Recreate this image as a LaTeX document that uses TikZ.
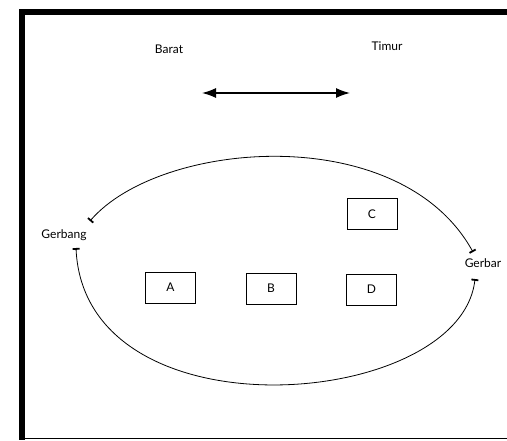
\documentclass[tikz,border=0pt]{standalone}
\usepackage{fontspec}
\setmainfont{Lato}
\usetikzlibrary{arrows.meta}

\tikzset{
  site/.style={draw, line width=1pt, minimum width=50pt, minimum height=31pt, inner sep=0pt},
  tag/.style={font=\fontsize{12}{14}\selectfont},
  route/.style={line width=0.8pt, {Bar[width=7pt,line width=1.8pt]}-{Bar[width=7pt,line width=1.8pt]}}
}

\begin{document}
\begin{tikzpicture}[x=10pt, y=-10pt]
\useasboundingbox (0,0) rectangle (50.7,44);

%Frame
\draw [line width=6pt] (50.7,1.2) -- (2.2,1.2) -- (2.2,44);
\draw [line width=1.5pt] (1.9,43.85) -- (50.7,43.85);

%Compass
\node [tag] (barat) at (16.9,4.9) {Barat};
\node [tag] (timur) at (38.7,4.6) {Timur};
\coordinate (west) at (20.2,9.3);
\coordinate (east) at (35.0,9.3);
\draw [line width=1.4pt, {Latex[length=14pt,width=10pt]}-{Latex[length=14pt,width=10pt]}] (west) -- (east);

%Sites
\node [site, tag] (A) at (17.05,28.75) {A};
\node [site, tag] (B) at (27.1,28.85) {B};
\node [site, tag] (C) at (37.2,21.4) {C};
\node [site, tag] (D) at (37.15,28.95) {D};

%Gates
\node [tag] (gerbangW) at (6.4,23.5) {Gerbang};
\node [tag] (gerbangE) at (48.3,26.3) {Gerbar};

\coordinate (topW) at (9.0,22.1);
\coordinate (topE) at (47.3,25.2);
\coordinate (botW) at (7.6,24.8);
\coordinate (botE) at (47.5,27.9);

%Routes
\draw [route] (topE) .. controls (40,12) and (16,14) .. (topW);
\draw [route] (botW) .. controls (8.5,44) and (46,41) .. (botE);

\end{tikzpicture}
\end{document}
